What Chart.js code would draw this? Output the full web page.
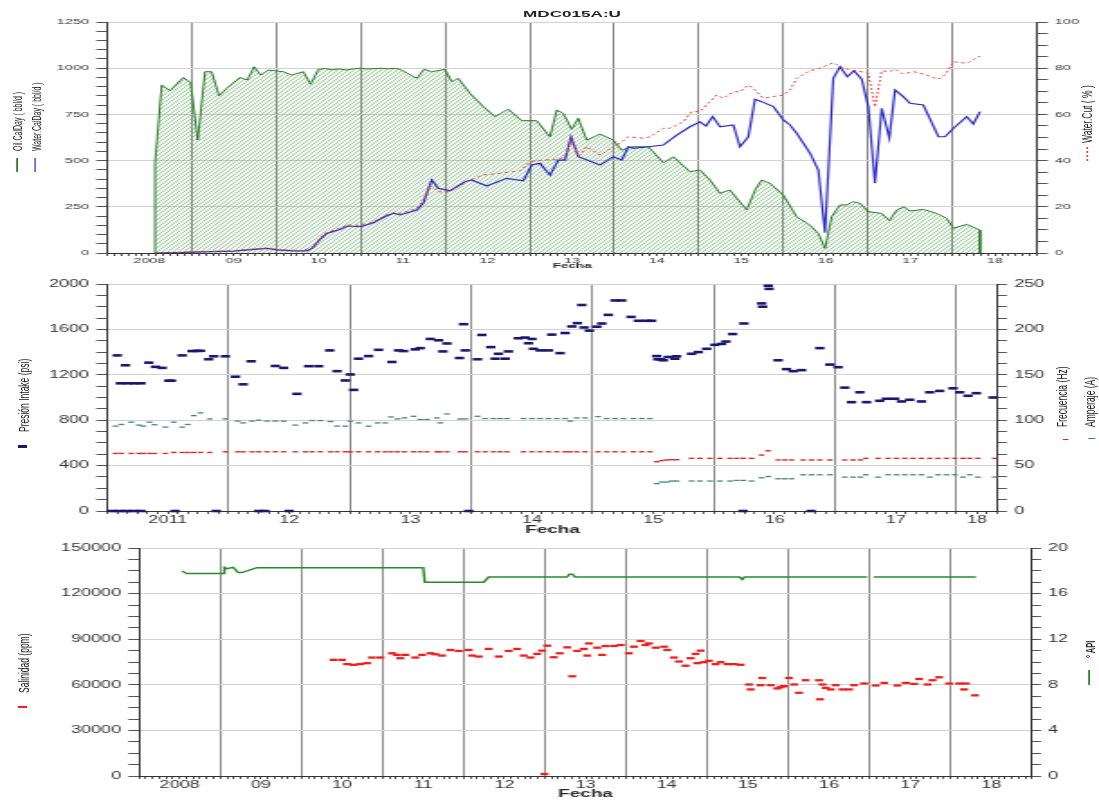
<!DOCTYPE html>
<html>
<head>
<meta charset="utf-8">
<title>MDC015A:U</title>
<script src="https://cdn.jsdelivr.net/npm/chart.js@4.4.1/dist/chart.umd.min.js"></script>
<style>
  html, body { margin: 0; padding: 0; background: #fff; width: 1099px; height: 800px; overflow: hidden; }
  /* the sheet is laid out 610px wide and stretched to the full 1099px page */
  #sheet { position: absolute; left: 0; top: 0; width: 610px; height: 800px; transform: scaleX(1.801639); transform-origin: 0 0; }
  .panel { position: absolute; left: 0; width: 610px; }
  .vt { position: absolute; white-space: nowrap; transform-origin: 0 0; transform: rotate(-90deg);
        font-family: 'Liberation Sans', Arial, sans-serif; color: #222; }
  .sw { position: absolute; }
  #title { position: absolute; left: 59.4px; width: 516.2px; top: 8px; text-align: center; line-height: 10px;
           font: bold 9.5px 'Liberation Sans', Arial, sans-serif; color: #222; }
</style>
</head>
<body>
<div id="sheet">
  <div class="panel" style="top:0;height:274px"><canvas id="prod"></canvas></div>
  <div class="panel" style="top:274px;height:264px"><canvas id="pump"></canvas></div>
  <div class="panel" style="top:538px;height:262px"><canvas id="fluid"></canvas></div>

  <div id="title">MDC015A:U</div>

  <!-- production panel captions -->
  <div class="vt" style="left:5.9px;top:151px;font-size:7px;line-height:7px">Oil.CalDay ( bbl/d )</div>
  <div class="vt" style="left:16.5px;top:151px;font-size:7px;line-height:7px">Water.CalDay ( bbl/d )</div>
  <div class="sw" style="left:8.6px;top:158px;width:0.7px;height:14px;background:#2c7a2c"></div>
  <div class="sw" style="left:19.1px;top:158px;width:0.7px;height:14px;background:#6a6ad8"></div>
  <div class="vt" style="left:599px;top:143px;font-size:8.5px;line-height:8.5px">Water.Cut ( % )</div>
  <div class="sw" style="left:603px;top:147px;width:0.8px;height:16px;background:repeating-linear-gradient(to bottom,#e04a40 0 2px,transparent 2px 4px)"></div>

  <!-- pump panel captions -->
  <div class="vt" style="left:8.5px;top:432px;font-size:8.5px;line-height:8.5px">Presión Intake (psi)</div>
  <div class="sw" style="left:10px;top:445px;width:5px;height:2.5px;background:#181870"></div>
  <div class="vt" style="left:585.3px;top:427px;font-size:8.5px;line-height:8.5px">Frecuencia (Hz)</div>
  <div class="vt" style="left:600.8px;top:427px;font-size:8.5px;line-height:8.5px">Amperaje (A)</div>
  <div class="sw" style="left:589.5px;top:438.5px;width:3.3px;height:1.5px;background:#e42222"></div>
  <div class="sw" style="left:604.4px;top:437.5px;width:3.3px;height:1.5px;background:#44857a"></div>

  <!-- fluid panel captions -->
  <div class="vt" style="left:9px;top:693px;font-size:8.5px;line-height:8.5px">Salinidad (ppm)</div>
  <div class="sw" style="left:10px;top:706px;width:5px;height:2px;background:#f21c1c"></div>
  <div class="vt" style="left:602.4px;top:658px;font-size:7.5px;line-height:7.5px;font-weight:bold">° API</div>
  <div class="sw" style="left:603.6px;top:670px;width:0.9px;height:15px;background:#2a8a2a"></div>
</div>

<script>
// ---------- axis tick values and year labels ----------
const yearLabelsLong = ['2008', '09', '10', '11', '12', '13', '14', '15', '16', '17', '18'];
const yearLabelsPump = ['2011', '12', '13', '14', '15', '16', '17', '18'];
const rateTicks = [0, 250, 500, 750, 1000, 1250];
const cutTicks = [0, 20, 40, 60, 80, 100];
const pressTicks = [0, 400, 800, 1200, 1600, 2000];
const hzTicks = [0, 50, 100, 150, 200, 250];
const salTicks = [0, 30000, 60000, 90000, 120000, 150000];
const apiTicks = [0, 4, 8, 12, 16, 20];

// ---------- production: oil rate (bbl/d) ----------
const oilT = [2008.568,2008.568,2008.647,2008.745,2008.902,2008.990,2009.073,2009.159,2009.238,2009.325,2009.416,2009.573,2009.659,2009.739,2009.818,2009.908,2010.007,2010.085,2010.184,2010.322,2010.409,2010.499,2010.58,2010.66,2010.75,2010.83,2010.92,2011.00,2011.08,2011.17,2011.25,2011.33,2011.41,2011.465,2011.663,2011.750,2011.840,2011.998,2012.077,2012.155,2012.293,2012.451,2012.589,2012.746,2012.905,2013.082,2013.239,2013.319,2013.397,2013.496,2013.574,2013.674,2013.831,2013.988,2014.087,2014.206,2014.402,2014.580,2014.698,2014.895,2015.014,2015.132,2015.250,2015.368,2015.566,2015.664,2015.743,2015.841,2015.999,2016.157,2016.315,2016.413,2016.492,2016.571,2016.669,2016.748,2016.827,2016.906,2017.004,2017.163,2017.253,2017.340,2017.426,2017.497,2017.655,2017.813,2017.931,2018.009,2018.168,2018.325,2018.325];
const oilV = [0,487,909,878,950,921,611,981,981,851,891,950,936,1008,963,990,985,981,963,981,913,994,998,992,996,990,997,1000,996,998,1000,997,999,994,945,994,981,994,927,945,864,792,738,778,716,716,629,774,756,669,729,611,644,611,557,575,575,489,521,440,449,395,323,341,233,341,395,377,314,196,150,106,25,196,260,260,278,269,224,214,175,233,250,227,236,214,188,134,155,124,0];

// ---------- production: water rate (bbl/d) ----------
const wtrT = [2008.568,2008.90,2009.10,2009.50,2009.74,2009.90,2010.01,2010.20,2010.36,2010.43,2010.52,2010.60,2010.76,2010.84,2011.00,2011.15,2011.30,2011.39,2011.465,2011.663,2011.741,2011.840,2011.918,2012.057,2012.234,2012.313,2012.491,2012.727,2012.924,2013.023,2013.121,2013.239,2013.338,2013.417,2013.488,2013.574,2013.831,2013.988,2014.087,2014.166,2014.225,2014.402,2014.580,2014.738,2014.895,2015.014,2015.085,2015.163,2015.250,2015.407,2015.486,2015.585,2015.664,2015.743,2015.881,2015.999,2016.078,2016.157,2016.315,2016.413,2016.492,2016.590,2016.669,2016.756,2016.835,2016.926,2017.004,2017.083,2017.163,2017.253,2017.320,2017.418,2017.497,2017.655,2017.833,2017.912,2018.011,2018.168,2018.247,2018.325];
const wtrV = [0,3,6,10,20,25,17,11,11,26,74,106,128,146,142,164,200,215,206,233,269,395,350,337,386,395,363,404,391,476,485,422,503,503,629,521,476,521,503,575,566,575,584,638,683,710,687,738,683,693,575,629,832,819,792,720,693,648,540,449,110,945,1008,954,986,940,792,377,783,621,882,846,810,801,629,629,675,738,698,765];

// ---------- production: water cut (%) ----------
const cutT = [2008.568,2009.10,2009.50,2009.74,2009.90,2010.01,2010.30,2010.43,2010.52,2010.60,2010.76,2010.84,2011.00,2011.15,2011.30,2011.39,2011.465,2011.663,2011.741,2011.820,2011.918,2012.057,2012.254,2012.451,2012.648,2012.885,2013.003,2013.161,2013.319,2013.417,2013.488,2013.574,2013.674,2013.831,2013.988,2014.067,2014.166,2014.343,2014.422,2014.580,2014.659,2014.816,2014.915,2015.014,2015.112,2015.211,2015.290,2015.407,2015.486,2015.585,2015.664,2015.762,2015.880,2015.999,2016.078,2016.157,2016.315,2016.433,2016.590,2016.669,2016.788,2016.867,2017.004,2017.083,2017.163,2017.253,2017.320,2017.418,2017.537,2017.655,2017.833,2017.912,2018.011,2018.168,2018.325];
const cutV = [0,0.5,1,1.8,2.2,1.5,1,2.5,6.5,9,10.8,12.2,12,13.5,16.5,17.5,17.2,19.3,22.9,29.4,26.5,26.5,30.9,33.8,34.5,35.6,39.5,40.3,40.6,41.4,49.2,41.7,46,42.4,46,47.5,50.3,49.7,50.3,54,54,56.8,61.2,61.2,64.8,68.4,67,69.8,69.8,72.7,70.6,67,67.7,68.4,70.5,75.6,78.9,80,82.4,80.7,79.2,78.9,77.8,63.3,78.9,78.5,79.5,77.5,78.5,77.5,75.2,77.1,82.8,82.1,85.3];

// ---------- pump: intake pressure (psi) ----------
const pressT = [2011.084,2011.110,2011.152,2011.170,2011.225,2011.280,2011.344,2011.399,2011.454,2011.509,2011.530,2011.619,2011.701,2011.740,2011.770,2011.838,2011.879,2011.975,2012.058,2012.121,2012.187,2012.387,2012.455,2012.565,2012.661,2012.743,2012.834,2012.895,2012.963,2013.004,2013.031,2013.072,2013.155,2013.237,2013.347,2013.402,2013.443,2013.539,2013.580,2013.663,2013.731,2013.767,2013.800,2013.904,2013.937,2013.951,2014.052,2014.088,2014.162,2014.198,2014.225,2014.280,2014.307,2014.389,2014.444,2014.472,2014.500,2014.513,2014.568,2014.636,2014.664,2014.733,2014.774,2014.829,2014.875,2014.911,2014.930,2014.974,2015.035,2015.076,2015.130,2015.185,2015.240,2015.317,2015.377,2015.446,2015.487,2015.528,2015.537,2015.560,2015.583,2015.624,2015.679,2015.693,2015.816,2015.871,2015.940,2016.008,2016.063,2016.099,2016.154,2016.247,2016.393,2016.401,2016.447,2016.455,2016.529,2016.598,2016.653,2016.722,2016.872,2016.955,2017.023,2017.078,2017.133,2017.202,2017.257,2017.366,2017.421,2017.490,2017.545,2017.613,2017.710,2017.778,2017.860,2017.970,2018.025,2018.093,2018.162,2018.299,2011.04,2011.10,2011.16,2011.22,2011.28,2011.56,2011.90,2012.25,2012.30,2012.50,2013.98,2016.24,2016.80];
const pressV = [1371,1125,1284,1125,1125,1125,1307,1270,1261,1148,1148,1371,1409,1411,1411,1337,1363,1363,1183,1116,1319,1278,1261,1032,1276,1276,1415,1232,1150,1203,1067,1342,1365,1420,1313,1415,1409,1424,1435,1516,1504,1406,1476,1348,1646,1415,1337,1551,1444,1342,1385,1342,1406,1522,1528,1478,1516,1429,1415,1415,1554,1391,1568,1626,1655,1815,1617,1589,1624,1652,1728,1855,1855,1710,1676,1676,1676,1365,1337,1337,1328,1357,1342,1363,1385,1400,1429,1464,1472,1493,1559,1652,1829,1800,1985,1957,1328,1250,1232,1241,1435,1290,1267,1087,959,1046,959,971,989,989,965,980,965,1046,1058,1081,1046,1015,1038,1000,0,0,0,0,0,0,0,0,0,0,0,0,0];

// ---------- pump: well tests (frequency Hz, amperage A) ----------
const testT = [2011.070,2011.117,2011.199,2011.262,2011.298,2011.350,2011.391,2011.481,2011.550,2011.619,2011.665,2011.714,2011.770,2011.846,2011.975,2012.077,2012.121,2012.195,2012.249,2012.318,2012.387,2012.455,2012.551,2012.634,2012.689,2012.757,2012.840,2012.895,2012.963,2013.004,2013.072,2013.155,2013.229,2013.292,2013.339,2013.393,2013.449,2013.525,2013.580,2013.635,2013.718,2013.745,2013.800,2013.909,2013.951,2014.052,2014.115,2014.184,2014.239,2014.294,2014.430,2014.500,2014.568,2014.636,2014.705,2014.774,2014.815,2014.870,2014.938,2015.045,2015.117,2015.185,2015.254,2015.336,2015.405,2015.473,2015.528,2015.569,2015.611,2015.652,2015.693,2015.816,2015.885,2015.967,2016.049,2016.132,2016.187,2016.241,2016.310,2016.393,2016.447,2016.529,2016.584,2016.639,2016.735,2016.804,2016.872,2016.955,2017.078,2017.147,2017.207,2017.251,2017.352,2017.435,2017.504,2017.572,2017.640,2017.709,2017.778,2017.846,2017.915,2017.984,2018.052,2018.107,2018.175,2018.313];
const freqV = [63.4,63.4,63.4,63.4,63.4,63.4,63.4,63.4,64.5,64.5,64.5,64.5,64.5,64.5,65.2,65.2,65.2,65.2,65.2,65.2,65.2,65.2,65.2,65.2,65.2,65.2,65.2,65.2,65.2,65.2,65.2,65.2,65.2,65.2,65.2,65.2,65.2,65.2,65.2,65.2,65.2,65.2,65.2,65.2,65.2,65.2,65.2,65.2,65.2,65.2,65.2,65.2,65.2,65.2,65.2,65.2,65.2,65.2,65.2,65.2,65.2,65.2,65.2,65.2,65.2,65.2,54.3,55.5,56.2,56.5,56.5,58,58,58,58,58,58,58,58,61.6,66.3,56.2,56.2,56.2,56.2,56.2,56.2,56.2,56.2,56.2,56.2,58,58,58,58,58,58,58,58,58,58,58,58,58,58,58];
const ampV = [93.5,95.3,97.8,94.6,93.5,97.8,95,92.4,97.8,92.4,95.3,105,108,101.4,101.4,99,97,99,100,99,99,99,94.6,97,99.6,99.6,98.5,93.5,93.5,99,97,93.5,97,97,103.6,101.4,102.5,104.3,100.8,100.8,102.5,97,106.9,101.4,101.4,104.3,101.8,101.8,101.8,101.8,101.8,101.8,101.8,101.8,101.8,101.8,99,102.5,102.5,104,101.8,101.8,101.8,101.8,101.8,101.8,30.1,31.9,31.9,33,33,33,33,33,33,33,33.7,33.7,33,36.6,38,35.5,35.5,35.5,39.9,39.9,39.9,39.9,37.3,37.3,37.3,39.9,37.3,39.9,39.9,39.9,39.9,39.9,37.3,39.9,39.9,39.9,37.3,39.9,37.3,37.3];

// ---------- fluid: salinity (ppm) ----------
const salT = [2010.396,2010.499,2010.561,2010.642,2010.725,2010.808,2010.869,2010.972,2011.116,2011.178,2011.218,2011.280,2011.403,2011.486,2011.588,2011.650,2011.732,2011.835,2011.937,2012.060,2012.102,2012.184,2012.307,2012.430,2012.554,2012.657,2012.739,2012.821,2012.904,2012.965,2012.994,2013.027,2013.108,2013.182,2013.274,2013.335,2013.397,2013.478,2013.520,2013.540,2013.644,2013.705,2013.746,2013.848,2013.931,2014.033,2014.095,2014.178,2014.239,2014.280,2014.363,2014.465,2014.507,2014.588,2014.650,2014.732,2014.794,2014.856,2014.877,2014.917,2014.958,2015.020,2015.102,2015.164,2015.247,2015.328,2015.411,2015.513,2015.533,2015.657,2015.678,2015.780,2015.863,2015.904,2015.944,2016.006,2016.068,2016.129,2016.211,2016.376,2016.388,2016.418,2016.459,2016.520,2016.582,2016.665,2016.746,2016.808,2016.931,2017.075,2017.178,2017.343,2017.445,2017.548,2017.609,2017.713,2017.774,2017.856,2017.979,2018.102,2018.164,2018.185,2018.296];
const salV = [76430,76430,73590,73160,73590,74240,77930,77930,80720,79680,77480,79680,77930,79680,80720,80070,79230,82930,82280,82930,79230,78580,83580,78580,82280,83580,79230,77930,80330,82470,1300,85720,78120,80720,84620,65590,82280,83580,79230,87210,84420,79680,85520,85520,86170,80720,85070,88770,86170,87210,84420,85070,82930,77930,75330,72540,77480,80330,74240,82470,74880,75780,73590,74880,73590,73590,73160,60200,56950,59750,64490,59750,57600,58450,59100,64490,60200,54740,62990,62990,50460,60200,57990,56950,59750,56950,56950,59750,60850,59550,61240,59550,61240,60590,63840,60200,62990,64940,60850,60850,56950,60850,53060];

// ---------- fluid: oil gravity (°API) ----------
const apiT = [2008.527,2008.588,2009.039,2009.050,2009.081,2009.160,2009.220,2009.266,2009.451,2011.500,2011.520,2012.245,2012.307,2013.270,2013.300,2013.340,2013.370,2015.400,2015.430,2015.460,2016.970,2017.010,2017.050,2018.310];
const apiV = [17.98,17.76,17.76,18.3,18.18,18.3,17.85,17.85,18.27,18.27,17.0,17.0,17.45,17.45,17.7,17.7,17.45,17.45,17.24,17.45,17.45,null,17.45,17.45];

// ---------- helpers ----------
const FONT = "'Liberation Sans', Arial, sans-serif";
Chart.defaults.font.family = FONT;
const pts = (xs, ys) => xs.map((x, i) => ({ x: x, y: ys[i] }));

// diagonal hatch used under the oil curve
function hatch() {
  const w = 3, h = 4;
  const c = document.createElement('canvas');
  c.width = w; c.height = h;
  const g = c.getContext('2d');
  g.strokeStyle = 'rgba(70,150,70,0.7)';
  g.lineWidth = 0.8;
  for (const dx of [-w, 0, w]) {
    g.beginPath(); g.moveTo(dx, h); g.lineTo(dx + w, 0); g.stroke();
  }
  return g.createPattern(c, 'repeat');
}

// time axis: monthly minor ticks, year grid lines, year labels centred in each year
function timeAxis(o) {
  const labelAt = {};
  o.labels.forEach((txt, i) => {
    const y = o.firstYear + i;
    const a = Math.max(y, o.min), b = Math.min(y + 1, o.max);
    labelAt[Math.round((a + b) / 2 * 12)] = txt;
  });
  return {
    type: 'linear', position: 'bottom', min: o.min, max: o.max,
    afterBuildTicks(scale) {
      const t = [];
      for (let m = Math.ceil(o.min * 12 - 1e-6); m <= Math.floor(o.max * 12 + 1e-6); m++) t.push({ value: m / 12 });
      scale.ticks = t;
    },
    afterFit(scale) { scale.height = o.height; },
    ticks: { autoSkip: false, maxRotation: 0, minRotation: 0, padding: 0, color: '#333', font: o.font,
             callback: (v) => labelAt[Math.round(v * 12)] || '' },
    grid: { drawOnChartArea: true, tickLength: 3, lineWidth: 1, tickColor: '#555',
            color: (c) => (c.tick && Math.round(c.tick.value * 12) % 12 === 0) ? '#8a8a8a' : 'rgba(0,0,0,0)' },
    border: { display: true, color: '#333', width: 1 },
    title: { display: true, text: 'Fecha', color: '#2a2a2a', font: o.titleFont, padding: { top: 0, bottom: o.titlePad } }
  };
}

// value axis: labelled major ticks, unlabelled minor ticks
function valueAxis(o) {
  const lo = o.major[0], hi = o.major[o.major.length - 1];
  const isMajor = (v) => o.major.some((t) => Math.abs(t - v) < (hi - lo) * 1e-6);
  return {
    type: 'linear', position: o.position, min: lo, max: hi,
    afterBuildTicks(scale) {
      const t = [];
      const n = Math.round((hi - lo) / o.minor);
      for (let i = 0; i <= n; i++) t.push({ value: lo + i * o.minor });
      scale.ticks = t;
    },
    afterFit(scale) { scale.width = o.width; },
    ticks: { autoSkip: false, padding: o.pad, color: '#333', font: o.font,
             callback: (v) => isMajor(v) ? String(Math.round(v)) : '' },
    grid: { drawOnChartArea: !!o.grid, tickLength: o.tick, lineWidth: 1, tickColor: '#555',
            color: (c) => (c.tick && isMajor(c.tick.value)) ? '#d2d2d2' : 'rgba(0,0,0,0)' },
    border: { display: true, color: '#333', width: 1 }
  };
}

const common = (padTop) => ({
  responsive: true, maintainAspectRatio: false, animation: false, events: [],
  layout: { padding: { top: padTop, bottom: 0, left: 0, right: 0 } },
  plugins: { legend: { display: false }, tooltip: { enabled: false }, title: { display: false } }
});

const smallTick = { size: 8, family: FONT };
const bigTick = { size: 10, family: FONT };

// ---------- panel 1: production history ----------
new Chart(document.getElementById('prod'), {
  type: 'line',
  data: { datasets: [
    { label: 'Water.Cut ( % )', data: pts(cutT, cutV), xAxisID: 'x', yAxisID: 'yR',
      borderColor: '#e8473f', borderWidth: 1, borderDash: [2, 2], pointRadius: 0, fill: false, tension: 0, order: 1 },
    { label: 'Water.CalDay ( bbl/d )', data: pts(wtrT, wtrV), xAxisID: 'x', yAxisID: 'yL',
      borderColor: '#2a2ac4', borderWidth: 1.2, pointRadius: 0, fill: false, tension: 0, order: 2 },
    { label: 'Oil.CalDay ( bbl/d )', data: pts(oilT, oilV), xAxisID: 'x', yAxisID: 'yL',
      borderColor: '#2c7a2c', borderWidth: 1, pointRadius: 0, fill: 'origin', backgroundColor: hatch(), tension: 0, order: 3 }
  ] },
  options: Object.assign(common(22), {
    scales: {
      x: timeAxis({ min: 2008, max: 2019, firstYear: 2008, labels: yearLabelsLong, font: smallTick,
                    titleFont: { size: 7.5, weight: 'bold', family: FONT }, height: 21, titlePad: 3.5 }),
      yL: valueAxis({ position: 'left', major: rateTicks, minor: 50, width: 59.4, font: smallTick, pad: 4, tick: 6, grid: true }),
      yR: valueAxis({ position: 'right', major: cutTicks, minor: 5, width: 34.4, font: smallTick, pad: 4, tick: 6, grid: false })
    }
  })
});

// ---------- panel 2: pump data ----------
new Chart(document.getElementById('pump'), {
  type: 'scatter',
  data: { datasets: [
    { label: 'Presión Intake (psi)', data: pts(pressT, pressV), xAxisID: 'x', yAxisID: 'yL',
      pointStyle: 'line', pointRadius: 2.6, borderWidth: 2.6, borderColor: '#181870', backgroundColor: '#181870', clip: false, order: 1 },
    { label: 'Frecuencia (Hz)', data: pts(testT, freqV), xAxisID: 'x', yAxisID: 'yR',
      pointStyle: 'line', pointRadius: 1.5, borderWidth: 1.4, borderColor: '#e42222', clip: false, order: 2 },
    { label: 'Amperaje (A)', data: pts(testT, ampV), xAxisID: 'x', yAxisID: 'yR',
      pointStyle: 'line', pointRadius: 1.6, borderWidth: 1.3, borderColor: '#44857a', clip: false, order: 3 }
  ] },
  options: Object.assign(common(7), {
    scales: {
      x: timeAxis({ min: 2011, max: 2018.34, firstYear: 2011, labels: yearLabelsPump, font: bigTick,
                    titleFont: { size: 10.5, weight: 'bold', family: FONT }, height: 27, titlePad: 1.7 }),
      yL: valueAxis({ position: 'left', major: pressTicks, minor: 100, width: 59.4, font: bigTick, pad: 4, tick: 6, grid: true }),
      yR: valueAxis({ position: 'right', major: hzTicks, minor: 12.5, width: 56.1, font: bigTick, pad: 4, tick: 5, grid: false })
    }
  })
});

// ---------- panel 3: fluid properties ----------
new Chart(document.getElementById('fluid'), {
  type: 'scatter',
  data: { datasets: [
    { label: '° API', data: pts(apiT, apiV), xAxisID: 'x', yAxisID: 'yR', showLine: true, spanGaps: false,
      pointRadius: 0, borderColor: '#2a8a2a', borderWidth: 1.4, order: 2 },
    { label: 'Salinidad (ppm)', data: pts(salT, salV), xAxisID: 'x', yAxisID: 'yL',
      pointStyle: 'line', pointRadius: 2.2, borderWidth: 2.3, borderColor: '#f21c1c', clip: false, order: 1 }
  ] },
  options: Object.assign(common(7), {
    scales: {
      x: timeAxis({ min: 2008, max: 2019, firstYear: 2008, labels: yearLabelsLong, font: bigTick,
                    titleFont: { size: 10.5, weight: 'bold', family: FONT }, height: 24, titlePad: 0 }),
      yL: valueAxis({ position: 'left', major: salTicks, minor: 7500, width: 77.2, font: bigTick, pad: 4, tick: 6, grid: true }),
      yR: valueAxis({ position: 'right', major: apiTicks, minor: 1, width: 37.2, font: bigTick, pad: 4, tick: 5, grid: false })
    }
  })
});
</script>
</body>
</html>
